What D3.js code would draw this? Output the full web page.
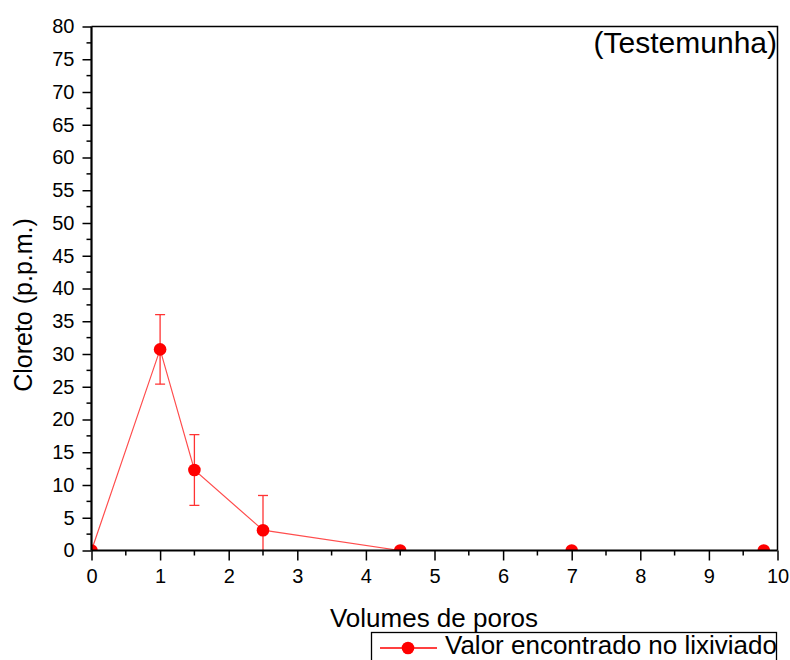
<!DOCTYPE html>
<html>
<head>
<meta charset="utf-8">
<script src="https://cdn.jsdelivr.net/npm/d3@7"></script>
<style>
  html, body { margin: 0; padding: 0; background: #fff; }
  svg { display: block; font-family: "Liberation Sans", Arial, sans-serif; }
</style>
</head>
<body>
<svg id="chart" width="790" height="660"></svg>
<script>
// Chloride in leachate vs. pore volumes
const poreVolumes = [0, 1, 1.5, 2.5, 4.5, 7, 9.8];
const chloride    = [0, 30.7, 12.3, 3.1, 0, 0, 0];
const errors      = [0, 5.3, 5.4, 5.3, 0, 0, 0];
const xTicks = [0, 1, 2, 3, 4, 5, 6, 7, 8, 9, 10];
const yTicks = [0, 5, 10, 15, 20, 25, 30, 35, 40, 45, 50, 55, 60, 65, 70, 75, 80];
const seriesName = "Valor encontrado no lixiviado";
const sampleLabel = "(Testemunha)";

const svg = d3.select("#chart");
const m = { left: 91.5, right: 777.5, top: 26.5, bottom: 550.5 };
const red = "#ff0000";

const x = d3.scaleLinear().domain([0, 10]).range([m.left, m.right]);
const y = d3.scaleLinear().domain([0, 80]).range([m.bottom, m.top]);

svg.append("defs").append("clipPath").attr("id", "plotClip")
  .append("rect")
  .attr("x", m.left).attr("y", m.top)
  .attr("width", m.right - m.left).attr("height", m.bottom - m.top);

// frame (top and right)
svg.append("path")
  .attr("d", `M${m.left},${m.top}H${m.right}V${m.bottom}`)
  .attr("fill", "none").attr("stroke", "#000").attr("stroke-width", 1.5);

const plot = svg.append("g").attr("clip-path", "url(#plotClip)");

const data = poreVolumes.map((v, i) => ({ x: v, y: chloride[i], e: errors[i] }));

// connecting line
plot.append("path")
  .datum(data)
  .attr("fill", "none")
  .attr("stroke", "#ff4d4d")
  .attr("stroke-width", 1.2)
  .attr("d", d3.line().x(d => x(d.x)).y(d => y(d.y)));

// error bars
const eb = plot.selectAll("g.err").data(data.filter(d => d.e > 0)).join("g")
  .attr("stroke", "#ff3333").attr("stroke-width", 1.3);
eb.append("line")
  .attr("x1", d => x(d.x)).attr("x2", d => x(d.x))
  .attr("y1", d => y(d.y - d.e)).attr("y2", d => y(d.y + d.e));
eb.append("line")
  .attr("x1", d => x(d.x) - 5).attr("x2", d => x(d.x) + 5)
  .attr("y1", d => y(d.y + d.e)).attr("y2", d => y(d.y + d.e));
eb.filter(d => d.y - d.e >= 0).append("line")
  .attr("x1", d => x(d.x) - 5).attr("x2", d => x(d.x) + 5)
  .attr("y1", d => y(d.y - d.e)).attr("y2", d => y(d.y - d.e));

// markers
plot.selectAll("circle").data(data).join("circle")
  .attr("cx", d => x(d.x)).attr("cy", d => y(d.y))
  .attr("r", 6.3).attr("fill", red);

// axes
const yMinor = d3.range(2.5, 80, 5);
const xMinor = d3.range(0.5, 10, 1);

const gy = svg.append("g").attr("transform", `translate(${m.left},0)`);
gy.call(d3.axisLeft(y).tickValues(yTicks).tickSize(9).tickPadding(8).tickFormat(d3.format("d")));
yMinor.forEach(v => gy.append("line")
  .attr("x1", 0).attr("x2", -5).attr("y1", y(v)).attr("y2", y(v))
  .attr("stroke", "#000").attr("stroke-width", 1.5));

const gx = svg.append("g").attr("transform", `translate(0,${m.bottom})`);
gx.call(d3.axisBottom(x).tickValues(xTicks).tickSize(10).tickPadding(8).tickFormat(d3.format("d")));
xMinor.forEach(v => gx.append("line")
  .attr("y1", 0).attr("y2", 5).attr("x1", x(v)).attr("x2", x(v))
  .attr("stroke", "#000").attr("stroke-width", 1.5));

[gx, gy].forEach(g => {
  g.select(".domain").attr("stroke", "#000").attr("stroke-width", 2.2);
  g.selectAll(".tick line").attr("stroke", "#000").attr("stroke-width", 1.5);
  g.selectAll(".tick text").attr("fill", "#000").attr("font-size", 20)
    .attr("font-family", "'Liberation Sans', Arial, sans-serif");
});
gy.select(".domain").attr("d", `M0,${m.bottom}V${m.top}`);
gx.select(".domain").attr("d", `M${m.left},0H${m.right}`);

// axis titles
svg.append("text")
  .attr("transform", `translate(32,305) rotate(-90)`)
  .attr("text-anchor", "middle").attr("font-size", 25).attr("fill", "#000")
  .text("Cloreto (p.p.m.)");
svg.append("text")
  .attr("x", 434).attr("y", 627)
  .attr("text-anchor", "middle").attr("font-size", 26).attr("fill", "#000")
  .text("Volumes de poros");

// sample label
svg.append("text")
  .attr("x", 777).attr("y", 53)
  .attr("text-anchor", "end").attr("font-size", 30).attr("fill", "#000")
  .text(sampleLabel);

// legend (box runs past the bottom edge of the page)
const lg = svg.append("g");
lg.append("rect")
  .attr("x", 371.5).attr("y", 632.5).attr("width", 405).attr("height", 40)
  .attr("fill", "#fff").attr("stroke", "#000").attr("stroke-width", 1.3);
lg.append("line")
  .attr("x1", 380).attr("x2", 437).attr("y1", 648).attr("y2", 648)
  .attr("stroke", red).attr("stroke-width", 1.3);
lg.append("circle").attr("cx", 408).attr("cy", 648).attr("r", 6.3).attr("fill", red);
lg.append("text")
  .attr("x", 445).attr("y", 654)
  .attr("font-size", 26).attr("fill", "#000")
  .text(seriesName);
</script>
</body>
</html>
